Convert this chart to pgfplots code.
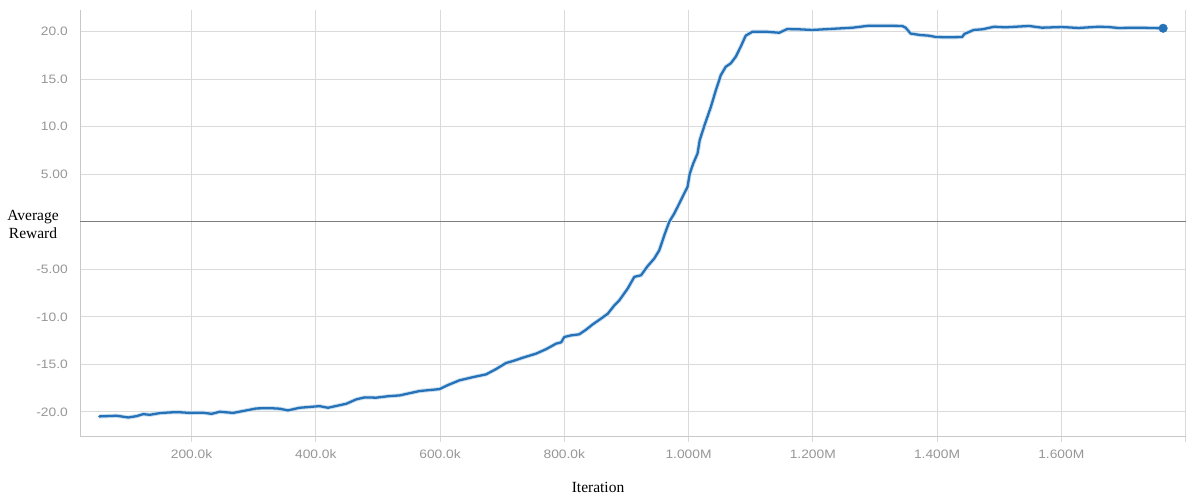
\documentclass[border=0pt]{standalone}
\usepackage{fontspec}
\usepackage{pgfplots}
\pgfplotsset{compat=1.18}
\setmainfont{Liberation Serif}
\newfontfamily\tickfont[FakeStretch=1.13]{Liberation Sans}
\definecolor{tbblue}{RGB}{38,114,184}
\definecolor{tbhalo}{RGB}{205,224,240}
\definecolor{gridc}{RGB}{218,218,218}
\definecolor{axc}{RGB}{200,200,200}
\definecolor{zeroc}{RGB}{125,125,125}
\definecolor{tickc}{RGB}{150,150,150}
\begin{document}
\begin{tikzpicture}
\begin{axis}[
  at={(0,0)}, anchor=south west,
  scale only axis,
  width=1105.5pt, height=426pt,
  xmin=20.4, xmax=1800,
  ymin=-22.53, ymax=22.26,
  axis x line*=bottom, axis y line*=left,
  axis line style={-, draw=axc, line width=1pt},
  xtick={200,400,...,1800},
  xticklabels={200.0k,400.0k,600.0k,800.0k,1.000M,1.200M,1.400M,1.600M,{}},
  ytick={-20,-15,-10,-5,5,10,15,20},
  yticklabels={-20.0,-15.0,-10.0,-5.00,5.00,10.0,15.0,20.0},
  extra y ticks={0}, extra y tick labels={},
  extra y tick style={grid style={draw=zeroc, line width=1.1pt}, major tick length=0pt},
  grid=major,
  grid style={draw=gridc, line width=0.9pt},
  tick align=outside,
  major tick length=6pt,
  xtick style={draw=gridc, line width=0.9pt},
  ytick style={draw=none},
  tick label style={font=\tickfont\fontsize{12.2}{14}\selectfont, text=tickc, inner sep=0pt},
  xticklabel style={anchor=base, yshift=-16.4pt},
  yticklabel style={anchor=east, xshift=-6pt},
  clip=false,
]
\pgfplotstableread{
x y
51.4 -20.47
79.4 -20.40
98 -20.58
111.6 -20.44
122 -20.23
133 -20.30
149 -20.12
165 -20.05
178.5 -20.02
197 -20.10
218.6 -20.08
232 -20.20
245.5 -19.98
267 -20.10
288 -19.84
304.5 -19.63
326 -19.60
342 -19.66
355 -19.84
374 -19.56
406 -19.39
419.6 -19.56
449 -19.14
465 -18.68
478.6 -18.47
497 -18.50
516 -18.35
535 -18.26
567 -17.80
599 -17.60
612.5 -17.18
631 -16.68
653 -16.34
674 -16.05
690 -15.50
706 -14.86
717 -14.65
733 -14.30
754.6 -13.87
770.7 -13.40
786.8 -12.82
795 -12.68
800 -12.12
811 -11.95
824 -11.84
835 -11.35
845.6 -10.80
859 -10.19
870 -9.67
880.5 -8.80
888.6 -8.26
902 -7.03
912.7 -5.80
923.5 -5.63
934 -4.68
944.8 -3.87
952.9 -3.00
961 -1.42
969 0.00
977 0.86
985 1.90
993 2.97
998.4 3.66
1002 5.07
1007.6 6.13
1014.5 7.18
1018 8.58
1026 10.20
1036 12.08
1044 13.84
1052 15.42
1060 16.30
1068 16.65
1076 17.35
1084 18.40
1092 19.56
1103 19.98
1124 19.98
1146 19.87
1159 20.26
1178 20.23
1199 20.16
1226 20.26
1264 20.40
1290.5 20.61
1317 20.61
1344 20.58
1349.5 20.40
1357.5 19.78
1373 19.63
1387 19.56
1398 19.42
1419 19.39
1440.5 19.42
1444 19.74
1459 20.16
1473 20.23
1492 20.50
1510 20.44
1548 20.58
1569 20.40
1601 20.47
1628 20.37
1660 20.50
1676 20.47
1692 20.37
1725 20.40
1764 20.34
}\reward
\addplot[tbhalo, line width=4.2pt, line join=round] table[x=x,y=y] {\reward};
\addplot[tbblue, line width=2.3pt, line join=round, line cap=round] table[x=x,y=y] {\reward};
\addplot[only marks, mark=*, mark size=4.3pt, tbblue] coordinates {(1764,20.34)};
\node[anchor=base, font=\fontsize{15.5}{18}\selectfont] at ([yshift=-56.3pt]rel axis cs:0.4686,0) {Iteration};
\node[anchor=base, font=\fontsize{15.5}{18}\selectfont] at (rel axis cs:-0.0425,0.5054) {Average};
\node[anchor=base, font=\fontsize{15.5}{18}\selectfont] at (rel axis cs:-0.0425,0.4641) {Reward};
\end{axis}
\pgfresetboundingbox
\path ([shift={(-80pt,-58pt)}]current axis.south west) rectangle ([shift={(5.5pt,10pt)}]current axis.north east);
\end{tikzpicture}
\end{document}
